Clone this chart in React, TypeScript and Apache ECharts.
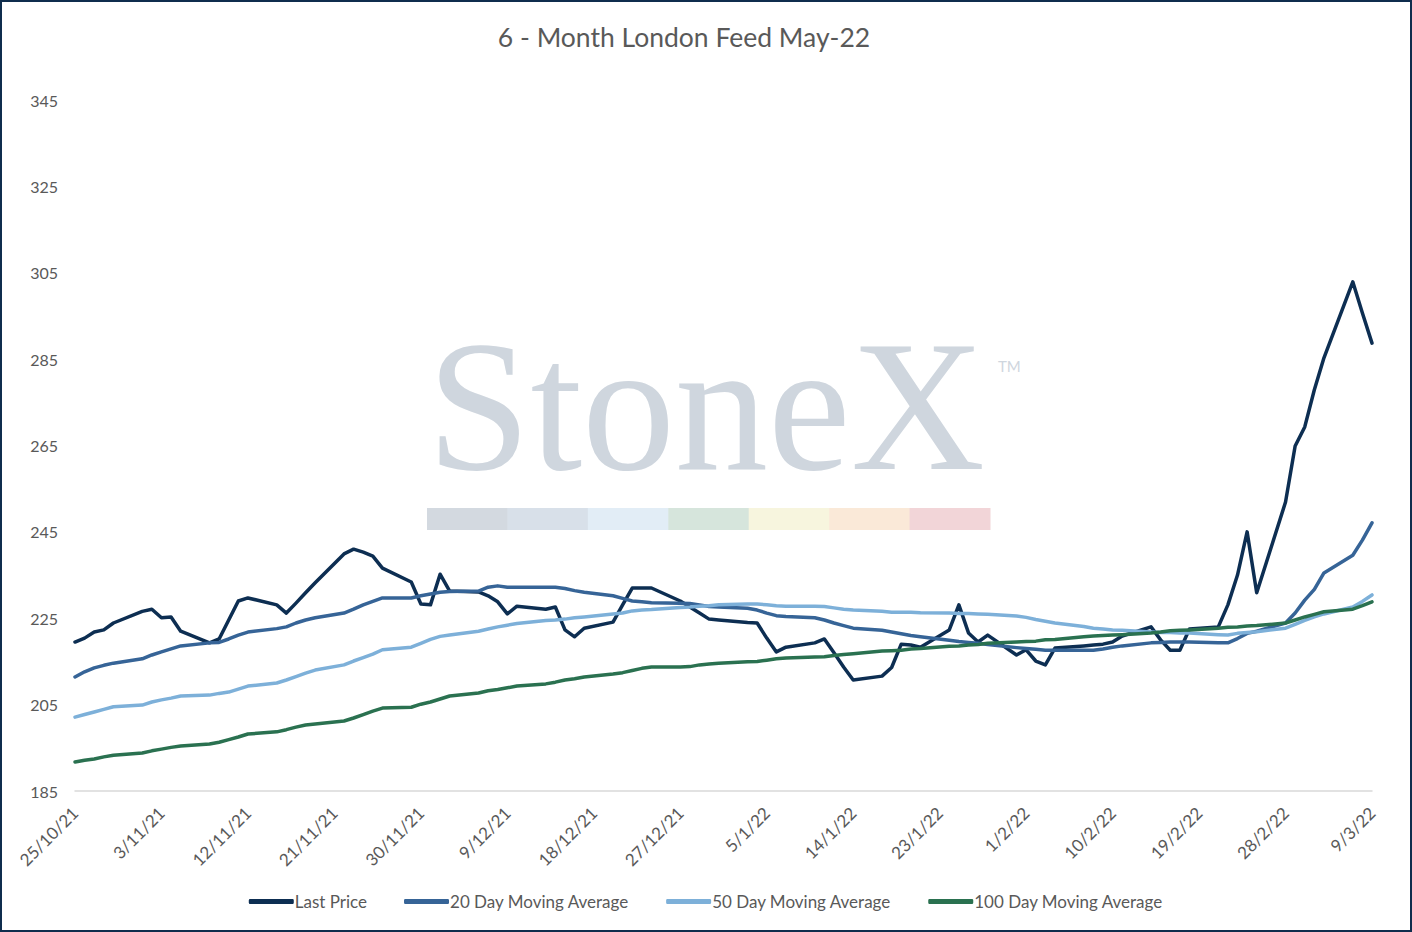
import React, { useEffect, useRef } from "react";
import * as echarts from "echarts";

const START_UTC = Date.UTC(2021, 9, 25); // 25/10/21
const END_OFFSET = 135; // 9/3/22
const TICK_EVERY = 9;

const seriesNames = [
  "Last Price",
  "20 Day Moving Average",
  "50 Day Moving Average",
  "100 Day Moving Average",
];
const seriesColors = ["#0d2e52", "#366497", "#7db0d9", "#2a7150"];

const lastPrice = [
  219.5, 220.4, 221.8, 222.3, 223.9,
  226.6, 227.1, 225.1, 225.3, 222.0,
  219.3, 220.2, 224.6, 229.0, 229.7,
  228.1, 226.2, 228.5, 230.9, 233.2,
  239.9, 241.0, 240.3, 239.4, 236.6,
  233.4, 228.3, 228.1, 235.2, 231.3,
  231.1, 230.2, 228.8, 226.0, 227.8,
  227.1, 227.6, 222.3, 220.7, 222.7,
  224.1, 228.1, 232.0, 232.0, 232.0,
  229.0, 227.6, 226.2, 224.8, 224.6,
  224.0, 223.9, 220.4, 217.2, 218.3,
  219.3, 220.2, 217.0, 213.7, 210.7,
  211.6, 213.6, 219.0, 218.8, 218.3,
  222.3, 228.1, 221.6, 219.5, 221.1,
  216.5, 217.7, 215.1, 214.2, 218.1,
  218.6, 218.8, 219.0, 219.5, 220.9,
  223.0, 220.0, 217.6, 217.6, 222.5,
  223.0, 228.1, 235.0, 245.0, 230.9,
  251.9, 264.9, 269.3, 277.9, 285.3,
  302.9, 295.7, 288.7,
];

const ma20 = [
  211.4, 212.6, 213.5, 214.1, 214.6,
  215.6, 216.5, 217.2, 217.9, 218.6,
  219.3, 219.4, 220.2, 221.1, 221.8,
  222.6, 223.0, 223.9, 224.6, 225.1,
  226.2, 227.1, 228.1, 228.9, 229.7,
  229.7, 230.2, 230.6, 231.0, 231.2,
  231.3, 232.2, 232.5, 232.2, 232.2,
  232.2, 232.2, 231.9, 231.4, 231.0,
  230.2, 229.6, 229.0, 228.8, 228.6,
  228.5, 228.4, 228.1, 227.7, 227.6,
  227.3, 226.9, 226.2, 225.6, 225.4,
  225.1, 224.6, 223.9, 223.3, 222.7,
  222.2, 221.8, 221.4, 221.0, 220.7,
  219.9, 219.6, 219.4, 219.2, 218.9,
  218.2, 218.0, 217.8, 217.6, 217.6,
  217.6, 217.6, 217.9, 218.3, 218.6,
  219.3, 219.4, 219.5, 219.5, 219.5,
  219.3, 219.3, 220.3, 221.5, 222.0,
  223.9, 226.2, 229.2, 231.7, 235.5,
  239.6, 243.1, 247.1,
];

const ma50 = [
  202.1, 202.7, 203.3, 203.9, 204.5,
  204.9, 205.6, 206.1, 206.5, 207.0,
  207.2, 207.6, 207.9, 208.6, 209.3,
  210.0, 210.7, 211.5, 212.3, 213.0,
  214.2, 215.1, 215.9, 216.7, 217.7,
  218.3, 219.2, 220.1, 220.8, 221.1,
  222.0, 222.5, 223.0, 223.4, 223.8,
  224.5, 224.6, 224.8, 225.1, 225.3,
  226.0, 226.2, 226.7, 226.9, 227.0,
  227.5, 227.6, 227.8, 227.9, 228.1,
  228.3, 228.3, 228.1, 227.9, 227.8,
  227.8, 227.7, 227.4, 227.1, 226.9,
  226.6, 226.4, 226.4, 226.4, 226.3,
  226.2, 226.1, 226.1, 226.0, 225.9,
  225.5, 225.2, 224.7, 224.3, 223.9,
  223.1, 222.7, 222.5, 222.3, 222.2,
  221.8, 221.7, 221.7, 221.6, 221.6,
  221.2, 221.1, 221.5, 221.7, 221.9,
  222.7, 223.6, 224.5, 225.3, 226.0,
  227.6, 228.9, 230.4,
];

const ma100 = [
  191.7, 192.1, 192.4, 192.9, 193.3,
  193.8, 194.3, 194.7, 195.1, 195.4,
  195.9, 196.3, 196.9, 197.5, 198.2,
  198.7, 199.2, 199.8, 200.3, 200.5,
  201.2, 201.9, 202.7, 203.5, 204.2,
  204.4, 205.1, 205.6, 206.3, 207.0,
  207.7, 208.2, 208.5, 208.9, 209.3,
  209.8, 210.2, 210.7, 211.0, 211.4,
  212.1, 212.4, 212.9, 213.4, 213.7,
  213.7, 213.8, 214.2, 214.4, 214.6,
  214.9, 215.0, 215.3, 215.6, 215.8,
  216.0, 216.1, 216.4, 216.6, 216.8,
  217.4, 217.5, 217.6, 217.9, 218.0,
  218.5, 218.6, 218.8, 218.9, 219.2,
  219.5, 219.6, 219.7, 220.0, 220.1,
  220.7, 220.9, 221.0, 221.1, 221.2,
  221.6, 221.8, 222.1, 222.2, 222.3,
  222.7, 222.9, 223.0, 223.2, 223.3,
  223.9, 224.6, 225.3, 225.9, 226.5,
  227.1, 227.9, 228.8,
];

const watermarkBarColors = [
  "#d3d9e0",
  "#d8e0e9",
  "#e2edf6",
  "#d6e5dc",
  "#f7f5de",
  "#fae9d8",
  "#f2d5d8",
];

// weekday offsets (days since 25/10/21, a Monday)
function tradingOffsets(): number[] {
  const out: number[] = [];
  for (let d = 0; d <= END_OFFSET; d++) {
    const dow = (1 + d) % 7;
    if (dow !== 6 && dow !== 0) out.push(d);
  }
  return out;
}

function labelFor(offset: number): string {
  const dt = new Date(START_UTC + offset * 86400000);
  return `${dt.getUTCDate()}/${dt.getUTCMonth() + 1}/${String(dt.getUTCFullYear()).slice(2)}`;
}

const FONT = "Lato, 'Open Sans', sans-serif";

export default function App() {
  const ref = useRef<HTMLDivElement>(null);

  useEffect(() => {
    document.body.style.margin = "0";
    if (!ref.current) return;
    const chart = echarts.init(ref.current, undefined, { renderer: "svg" });
    const offs = tradingOffsets();
    const all = [lastPrice, ma20, ma50, ma100];

    const barX0 = 425;
    const barW = (988 - 425) / watermarkBarColors.length;

    chart.setOption({
      animation: false,
      backgroundColor: "#ffffff",
      title: {
        text: "6 - Month London Feed May-22",
        left: 677,
        top: 16,
        textAlign: "center",
        textStyle: {
          fontFamily: FONT,
          fontSize: 26.5,
          fontWeight: "normal",
          color: "#595959",
        },
      },
      graphic: [
        {
          type: "text",
          z: 0,
          silent: true,
          style: {
            x: 704,
            y: 404,
            text: "StoneX",
            fontFamily: "'Liberation Serif', 'DejaVu Serif', serif",
            fontSize: 186,
            fill: "#cfd6de",
            align: "center",
            verticalAlign: "middle",
          },
        },
        {
          type: "text",
          z: 0,
          silent: true,
          style: {
            x: 996,
            y: 364,
            text: "TM",
            fontFamily: FONT,
            fontSize: 15,
            fill: "#cfd6de",
            align: "left",
            verticalAlign: "middle",
          },
        },
        ...watermarkBarColors.map((c, i) => ({
          type: "rect",
          z: 0,
          silent: true,
          shape: { x: barX0 + i * barW, y: 506, width: barW + 0.5, height: 22 },
          style: { fill: c },
        })),
      ],
      legend: {
        bottom: 15,
        left: "center",
        itemWidth: 45,
        itemHeight: 5,
        itemGap: 37,
        icon: "roundRect",
        data: seriesNames,
        textStyle: { fontFamily: FONT, fontSize: 17, color: "#595959", padding: [0, 0, 0, -4] },
      },
      grid: { left: 73, right: 38, top: 98, bottom: 139, containLabel: false },
      xAxis: {
        type: "value",
        min: 0,
        max: END_OFFSET,
        interval: TICK_EVERY,
        axisLine: { show: true, lineStyle: { color: "#d9d9d9", width: 1.5 } },
        axisTick: { show: false },
        splitLine: { show: false },
        axisLabel: {
          rotate: 45,
          margin: 19,
          fontFamily: FONT,
          fontSize: 17,
          color: "#595959",
          formatter: (v: number) => labelFor(v),
        },
      },
      yAxis: {
        type: "value",
        min: 185,
        max: 345,
        interval: 20,
        axisLine: { show: false },
        axisTick: { show: false },
        splitLine: { show: false },
        axisLabel: {
          margin: 17,
          fontFamily: FONT,
          fontSize: 16,
          color: "#595959",
        },
      },
      series: seriesNames.map((name, i) => ({
        name,
        type: "line",
        z: 2 + i,
        symbol: "none",
        color: seriesColors[i],
        lineStyle: { width: 3.5, color: seriesColors[i], cap: "round", join: "round" },
        data: all[i].map((v, k) => [offs[k], v]),
      })),
    });

    return () => chart.dispose();
  }, []);

  return (
    <div
      style={{
        width: 1412,
        height: 932,
        boxSizing: "border-box",
        border: "2px solid #0f2d4d",
        background: "#fff",
      }}
    >
      <div ref={ref} style={{ width: 1408, height: 928 }} />
    </div>
  );
}
